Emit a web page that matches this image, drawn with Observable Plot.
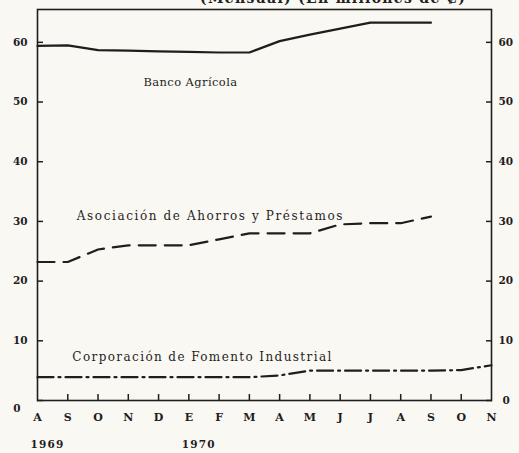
<!DOCTYPE html>
<html>
<head>
<meta charset="utf-8">
<script src="https://cdn.jsdelivr.net/npm/d3@7"></script>
<script src="https://cdn.jsdelivr.net/npm/@observablehq/plot@0.6"></script>
<style>
  html, body { margin: 0; padding: 0; background: #faf8f3; overflow: hidden; }
  #wrap { position: relative; width: 519px; height: 453px; }
  #title { position: absolute; top: -10px; left: 200px; font-family: "DejaVu Serif", serif; font-weight: bold; font-size: 14px; color: #222; white-space: nowrap; letter-spacing: 1.3px; }
  svg { font-family: "DejaVu Serif", serif; }
</style>
</head>
<body>
<div id="wrap"><div id="title">(Mensual) (En millones de ₡)</div></div>
<script>
const months = ["A","S","O","N","D","E","F","M","A","M","J","J","A","S","O","N"];
const yearLabels = ["1969","1970"];
const yearMonthIndex = [0, 5];
const seriesNames = ["Banco Agrícola", "Asociación de Ahorros y Préstamos", "Corporación de Fomento Industrial"];
const bancoAgricola = [59.4,59.5,58.7,58.6,58.5,58.4,58.3,58.3,60.2,61.3,62.3,63.3,63.3,63.3];
const asociacion = [23.2,23.2,25.3,26.0,26.0,26.0,27.0,28.0,28.0,28.0,29.5,29.7,29.7,30.8];
const corporacion = [3.9,3.9,3.9,3.9,3.9,3.9,3.9,3.9,4.2,5.0,5.0,5.0,5.0,5.0,5.1,5.9];
const yTicks = [0,10,20,30,40,50,60];

const toRows = arr => arr.map((v, i) => ({i, v}));
const ink = "#1e1e1e";

const chart = Plot.plot({
  width: 519,
  height: 453,
  marginLeft: 37,
  marginRight: 28,
  marginTop: 9,
  marginBottom: 53,
  style: {background: "transparent", color: ink, fontFamily: "DejaVu Serif, serif"},
  x: {domain: [0, 15], label: null},
  y: {domain: [0, 65.5], label: null},
  marks: [
    Plot.frame({stroke: ink, strokeWidth: 1.6}),
    // y ticks (inward)
    Plot.axisY(yTicks, {anchor: "left", tickSize: -6, text: null, strokeWidth: 1.5, label: null}),
    Plot.axisY(yTicks, {anchor: "right", tickSize: -6, text: null, strokeWidth: 1.5, label: null}),
    Plot.axisY(yTicks.filter(d => d > 0), {anchor: "left", tickSize: 0, tickPadding: 10, fontSize: 10.5, fontWeight: "bold", label: null}),
    Plot.axisY(yTicks.filter(d => d > 0), {anchor: "right", tickSize: 0, tickPadding: 7, fontSize: 10.5, fontWeight: "bold", label: null}),
    Plot.axisY([0], {anchor: "left", tickSize: 0, tickPadding: 17, dy: 8, fontSize: 10.5, fontWeight: "bold", label: null}),
    Plot.axisY([0], {anchor: "right", tickSize: 0, tickPadding: 11, fontSize: 10.5, fontWeight: "bold", label: null}),
    // x ticks (inward)
    Plot.axisX(d3.range(1, months.length - 1), {anchor: "bottom", tickSize: -6, text: null, strokeWidth: 1.5, label: null}),
    Plot.axisX(d3.range(months.length), {anchor: "bottom", tickSize: 0, tickPadding: 13, fontSize: 11, fontWeight: "bold", tickFormat: i => months[i], label: null}),
    Plot.text(yearLabels, {x: (d, k) => yearMonthIndex[k], y: 0, dy: 44, dx: -7, text: d => d, textAnchor: "start", fontSize: 10.5, fontWeight: "bold"}),
    // series
    Plot.line(toRows(bancoAgricola), {x: "i", y: "v", stroke: ink, strokeWidth: 2.2}),
    Plot.line(toRows(asociacion), {x: "i", y: "v", stroke: ink, strokeWidth: 2.2, strokeDasharray: "17,9"}),
    Plot.line(toRows(corporacion), {x: "i", y: "v", stroke: ink, strokeWidth: 2.2, strokeDasharray: "16,5,2,5"}),
    // series labels
    Plot.text([seriesNames[0]], {x: 3.5, y: 53.3, text: d => d, textAnchor: "start", fontSize: 11.5}),
    Plot.text([seriesNames[1]], {x: 1.3, y: 30.8, text: d => d, textAnchor: "start", fontSize: 12}),
    Plot.text([seriesNames[2]], {x: 1.15, y: 7.3, text: d => d, textAnchor: "start", fontSize: 12})
  ]
});
const spacing = new Map([[seriesNames[0], 0.4], [seriesNames[1], 1.6], [seriesNames[2], 1.4], [yearLabels[0], 1.2], [yearLabels[1], 1.2]]);
d3.select(chart).selectAll("text").each(function() {
  const t = this.textContent;
  if (spacing.has(t)) this.setAttribute("letter-spacing", spacing.get(t));
});
document.getElementById("wrap").appendChild(chart);
</script>
</body>
</html>
